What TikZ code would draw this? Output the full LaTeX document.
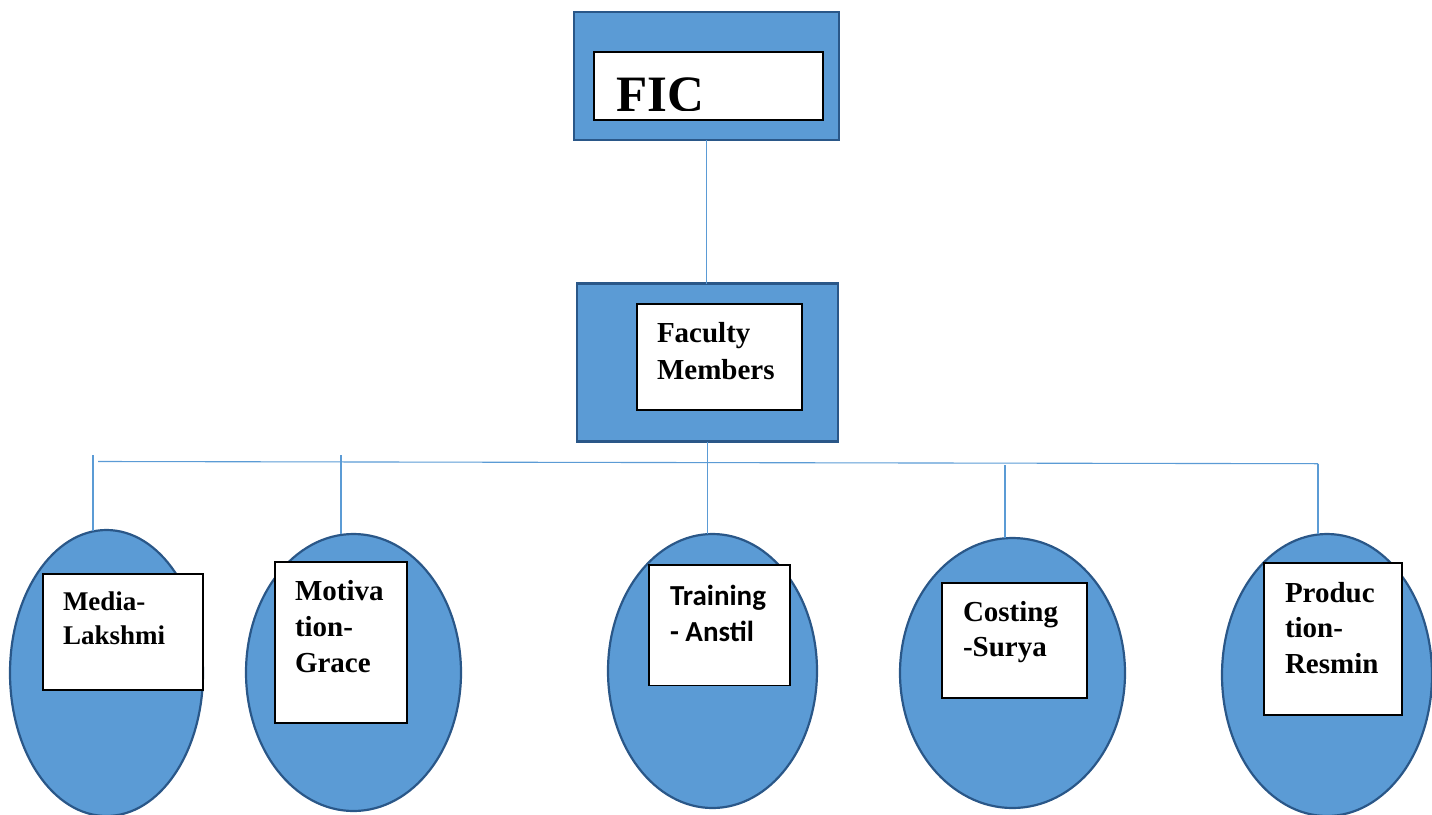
\documentclass[tikz,border=0pt]{standalone}
\usepackage{fontspec}
\setmainfont{Liberation Serif}
\newfontfamily\calib{Carlito}
\usetikzlibrary{shapes.geometric}
\definecolor{fillblue}{HTML}{5B9BD5}
\definecolor{edgeblue}{HTML}{2A5788}
\definecolor{lineblue}{HTML}{5B9BD5}
\begin{document}
\begin{tikzpicture}[x=1pt,y=-1pt,
  outerbox/.style={rectangle,draw=edgeblue,line width=2.2pt,fill=fillblue,inner sep=0pt,outer sep=0pt,anchor=north west},
  innerbox/.style={rectangle,draw=black,line width=1.7pt,fill=white,inner sep=0pt,outer sep=0pt,anchor=north west},
  oval/.style={ellipse,draw=edgeblue,line width=2.2pt,fill=fillblue,inner sep=0pt,outer sep=0pt},
  conn/.style={draw=lineblue,line width=1.1pt},
  lbl/.style={anchor=base west,inner sep=0pt,outer sep=0pt}
]
\useasboundingbox (0,0) rectangle (1432,814);

% top boxes
\node[outerbox,minimum width=265pt,minimum height=128pt] (fic) at (574,12) {};
\node[innerbox,minimum width=229pt,minimum height=68pt] (ficin) at (594,52) {};
\begin{scope}
  \clip (594,52) rectangle (823,110.5);
  \node[lbl] (fict) at (616,111) {\fontsize{51}{51}\selectfont\bfseries FIC};
\end{scope}

\node[outerbox,minimum width=261pt,minimum height=158pt] (fac) at (577,283.5) {};
\node[innerbox,minimum width=165pt,minimum height=106pt] (facin) at (637,304) {};
\node[lbl] (fact) at (657,342.7) {\parbox[t]{160pt}{\fontsize{29}{37}\selectfont\bfseries Faculty\\Members}};

% ellipses
\node[oval,minimum width=193pt,minimum height=286pt] (media) at (106.5,673) {};
\node[oval,minimum width=215pt,minimum height=277pt] (motiv) at (353.5,672.5) {};
\node[oval,minimum width=209pt,minimum height=274pt] (train) at (712.5,671) {};
\node[oval,minimum width=225pt,minimum height=270pt] (cost) at (1012.5,673) {};
\node[oval,minimum width=210pt,minimum height=282pt] (prod) at (1327,675) {};

% inner white boxes
\node[innerbox,minimum width=160pt,minimum height=116pt] (mediab) at (43,574) {};
\node[innerbox,minimum width=132pt,minimum height=161pt] (motivb) at (275,562) {};
\node[innerbox,minimum width=141pt,minimum height=120.5pt] (trainb) at (649,565) {};
\node[innerbox,minimum width=145pt,minimum height=115pt] (costb) at (942,582.7) {};
\node[innerbox,minimum width=138.5pt,minimum height=152pt] (prodb) at (1263.7,563.3) {};

% labels
\node[lbl] (mediat) at (63,610) {\parbox[t]{140pt}{\fontsize{27}{34}\selectfont\bfseries Media-\\Lakshmi}};
\node[lbl] (motivt) at (295,600.7) {\parbox[t]{120pt}{\fontsize{29}{36}\selectfont\bfseries Motiva\\tion-\\Grace}};
\node[lbl] (traint) at (670,605) {\parbox[t]{120pt}{\calib\fontsize{29}{36.7}\selectfont\bfseries Training\\- Anstil}};
\node[lbl] (costt) at (963,621.7) {\parbox[t]{120pt}{\fontsize{29}{35}\selectfont\bfseries Costing\\-Surya}};
\node[lbl] (prodt) at (1285,602) {\parbox[t]{120pt}{\fontsize{29}{35.5}\selectfont\bfseries Produc\\tion-\\Resmin}};

% connectors
\coordinate (busL) at (98,461.5);
\coordinate (busR) at (1318,463.7);
\coordinate (mtop) at (93,455);
\coordinate (vtop) at (341,455);
\coordinate (ctop) at (1005,465);

\draw[conn] (fic.south) -- (fic.south |- fac.north);
\draw[conn] (busL) -- (busR);
\draw[conn] (mtop) -- (mtop |- 0,531);
\draw[conn] (vtop) -- (vtop |- motiv.north);
\draw[conn] (fac.south) -- (fac.south |- train.north);
\draw[conn] (ctop) -- (ctop |- cost.north);
\draw[conn] (busR) -- (busR |- prod.north);
\end{tikzpicture}
\end{document}
